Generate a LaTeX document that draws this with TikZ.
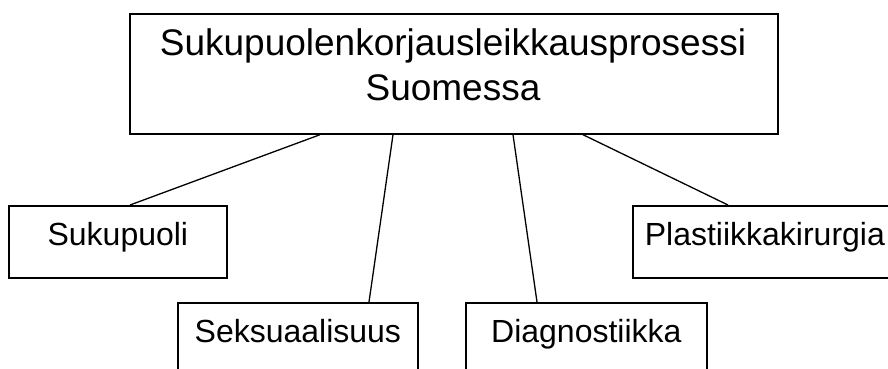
\documentclass[tikz,border=0pt]{standalone}
\usepackage{fontspec}
\setmainfont{Liberation Sans}
\begin{document}
\begin{tikzpicture}[x=1pt,y=-1pt,
  box/.style={draw, line width=1.7pt, inner sep=0pt, anchor=north west,
    text height=40pt, text depth=32pt, font=\fontsize{32}{38}\selectfont},
  title/.style={anchor=base, inner sep=0pt, font=\fontsize{37}{45}\selectfont},
  link/.style={line width=1.3pt}]
\useasboundingbox (0,0) rectangle (888,368);

% main process box with its two-line heading
\node[draw, line width=1.7pt, inner sep=0pt, anchor=north west,
      minimum width=648pt, minimum height=120pt] (main) at (129,13) {};
\node[title] (mainA) at (453,55) {Sukupuolenkorjausleikkausprosessi};
\node[title] (mainB) at (453,100) {Suomessa};

% topic boxes
\node[box, minimum width=218pt] (suk)  at (8,205)   {Sukupuoli};
\node[box, minimum width=240pt] (sek)  at (177,302) {Seksuaalisuus};
\node[box, minimum width=241pt] (diag) at (465,302) {Diagnostiikka};
\node[box, minimum width=264pt] (plas) at (632,205) {Plastiikkakirurgia};

% connectors from the main box to each topic
\draw[link] ([xshift=191pt]main.south west) -- ([xshift=122pt]suk.north west);
\draw[link] ([xshift=264pt]main.south west) -- ([xshift=192pt]sek.north west);
\draw[link] ([xshift=384pt]main.south west) -- ([xshift=72pt]diag.north west);
\draw[link] ([xshift=454pt]main.south west) -- ([xshift=96pt]plas.north west);
\end{tikzpicture}
\end{document}
